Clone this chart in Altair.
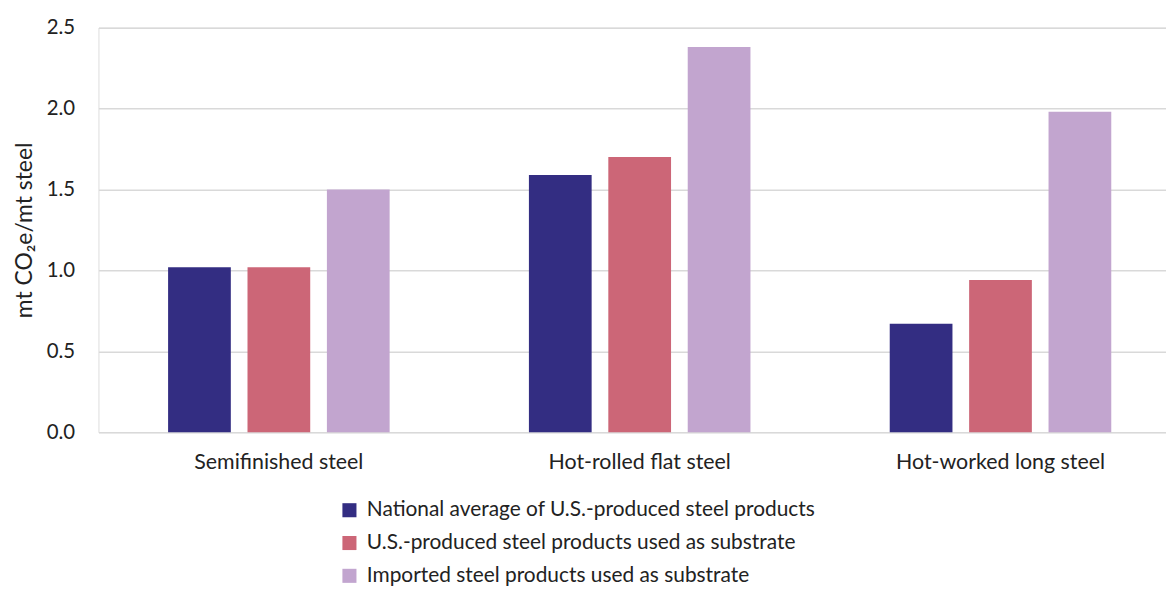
import altair as alt
import pandas as pd

categories = ["Semifinished steel", "Hot-rolled flat steel", "Hot-worked long steel"]
series = [
    "National average of U.S.-produced steel products",
    "U.S.-produced steel products used as substrate",
    "Imported steel products used as substrate",
]
national_avg = [1.02, 1.59, 0.67]
us_substrate = [1.02, 1.70, 0.94]
imported_substrate = [1.50, 2.38, 1.98]
colors = ["#332D82", "#CC6677", "#C2A5CF"]
y_ticks = [0.0, 0.5, 1.0, 1.5, 2.0, 2.5]

rows = []
for s, vals in zip(series, [national_avg, us_substrate, imported_substrate]):
    for c, v in zip(categories, vals):
        rows.append({"category": c, "series": s, "value": v})
df = pd.DataFrame(rows)

FONT = "Lato"

chart = (
    alt.Chart(df)
    .mark_bar()
    .encode(
        x=alt.X(
            "category:N",
            sort=categories,
            title=None,
            scale=alt.Scale(range=[0, 1089], paddingInner=0.386, paddingOuter=0.193),
            axis=alt.Axis(
                labelAngle=0, labelFontSize=21.5, labelFont=FONT, labelColor="#222222",
                ticks=False, domain=False, labelPadding=20, labelLimit=500,
            ),
        ),
        xOffset=alt.XOffset("series:N", sort=series, scale=alt.Scale(paddingInner=0.21)),
        y=alt.Y(
            "value:Q",
            scale=alt.Scale(domain=[0, 2.5]),
            title="mt CO₂e/mt steel",
            axis=alt.Axis(
                values=y_ticks, format=".1f", labelFontSize=20.5, labelFont=FONT,
                labelColor="#222222", ticks=False, domain=False, labelPadding=24,
                titleFont=FONT, titleFontSize=23, titleFontWeight="normal",
                titleColor="#222222", titlePadding=10,
                gridColor="#D9D9D9", gridWidth=1.5,
            ),
        ),
        color=alt.Color(
            "series:N",
            sort=series,
            scale=alt.Scale(domain=series, range=colors),
            legend=alt.Legend(
                title=None, orient="none", legendX=242, legendY=475,
                symbolType="square", symbolSize=200, symbolStrokeWidth=0,
                labelFont=FONT, labelFontSize=21, labelColor="#222222",
                rowPadding=11, labelOffset=7, labelLimit=700,
            ),
        ),
    )
    .properties(
        width=1074, height=407,
        autosize=alt.AutoSizeParams(type="none"),
        padding={"left": 91, "top": 18, "right": 0, "bottom": 158},
    )
    .configure_view(stroke=None)
    .configure(background="white")
)

chart.save("out.html", embed_options={"renderer": "svg", "actions": False})
